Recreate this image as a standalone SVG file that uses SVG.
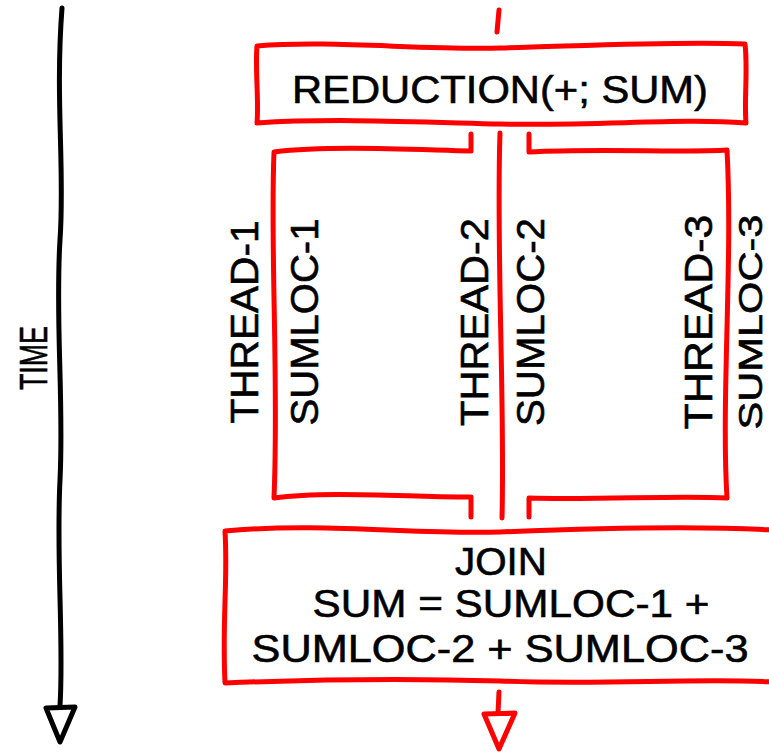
<svg xmlns="http://www.w3.org/2000/svg" width="769" height="752" viewBox="0 0 769 752">
  <style>
    .red { fill: none; stroke: #ff0000; stroke-width: 5; stroke-linecap: round; stroke-linejoin: round; }
    .redbox { fill: #ffffff; stroke: #ff0000; stroke-width: 5; stroke-linecap: round; stroke-linejoin: round; }
    .blk { fill: none; stroke: #000000; stroke-width: 5; stroke-linecap: round; stroke-linejoin: round; }
    .head-r { fill: #ffffff; stroke: #ff0000; stroke-width: 5; stroke-linejoin: round; }
    .head-k { fill: #ffffff; stroke: #000000; stroke-width: 5; stroke-linejoin: round; }
    .lbl { font-family: "Liberation Sans", "DejaVu Sans", sans-serif; font-size: 39px; fill: #000000; stroke: #000000; stroke-width: 0.6; text-anchor: middle; }
  </style>
  <rect width="769" height="752" fill="#ffffff"/>

  <g id="time-axis">
    <path class="blk" d="M62,8 C55,100 65,170 60,240 C55,320 64,400 60,480 C56,560 64,640 60,706"/>
    <polygon class="head-k" points="46,708 75,707 60,742"/>
    <text class="lbl" transform="translate(47,358) rotate(-90)" textLength="64" lengthAdjust="spacingAndGlyphs">TIME</text>
  </g>

  <g id="connectors">
    <path class="red" d="M499,10 L497,32"/>
    <path class="red" d="M499,692 L498,713"/>
    <polygon class="head-r" points="484,714 515,713 499,749"/>
  </g>

  <g id="reduction">
    <path class="redbox" d="M257,46 C330,40 420,50 500,48 C580,46 680,41 745,44 C748,70 744,100 746,123 C680,118 600,126 500,124 C420,122 330,118 257,123 C259,100 255,70 257,46 Z"/>
    <text class="lbl" x="500" y="103" textLength="416" lengthAdjust="spacingAndGlyphs">REDUCTION(+; SUM)</text>
  </g>

  <g id="thread-1">
    <path class="red" d="M471,134 L471,151 C420,150 330,145 274,152 C270,250 279,380 274,498 C330,490 420,498 471,497 L471,517"/>
    <text class="lbl" transform="translate(258,322) rotate(-90)" textLength="203" lengthAdjust="spacingAndGlyphs">THREAD-1</text>
    <text class="lbl" transform="translate(318,322) rotate(-90)" textLength="207" lengthAdjust="spacingAndGlyphs">SUMLOC-1</text>
  </g>

  <g id="thread-2">
    <path class="red" d="M500,133 C496,250 505,400 502,518"/>
    <text class="lbl" transform="translate(488,322) rotate(-90)" textLength="208" lengthAdjust="spacingAndGlyphs">THREAD-2</text>
    <text class="lbl" transform="translate(544,322) rotate(-90)" textLength="208" lengthAdjust="spacingAndGlyphs">SUMLOC-2</text>
  </g>

  <g id="thread-3">
    <path class="red" d="M529,134 L529,152 C600,148 680,153 727,150 C733,260 721,400 727,498 C680,495 600,500 529,498 L529,517"/>
    <text class="lbl" transform="translate(712,322) rotate(-90)" textLength="215" lengthAdjust="spacingAndGlyphs">THREAD-3</text>
    <text class="lbl" style="font-size:34px" transform="translate(762,322) rotate(-90)" textLength="215" lengthAdjust="spacingAndGlyphs">SUMLOC-3</text>
  </g>

  <g id="join">
    <path class="redbox" d="M225,531 C320,522 420,535 500,532 C600,528 700,526 774,530 L774,682 C700,678 600,685 500,681 C400,678 300,680 225,683 C222,620 228,580 225,531 Z"/>
    <text class="lbl" x="501" y="575" textLength="92" lengthAdjust="spacingAndGlyphs">JOIN</text>
    <text class="lbl" x="511" y="617" textLength="397" lengthAdjust="spacingAndGlyphs">SUM = SUMLOC-1 +</text>
    <text class="lbl" x="500" y="662" textLength="497" lengthAdjust="spacingAndGlyphs">SUMLOC-2 + SUMLOC-3</text>
  </g>
</svg>
